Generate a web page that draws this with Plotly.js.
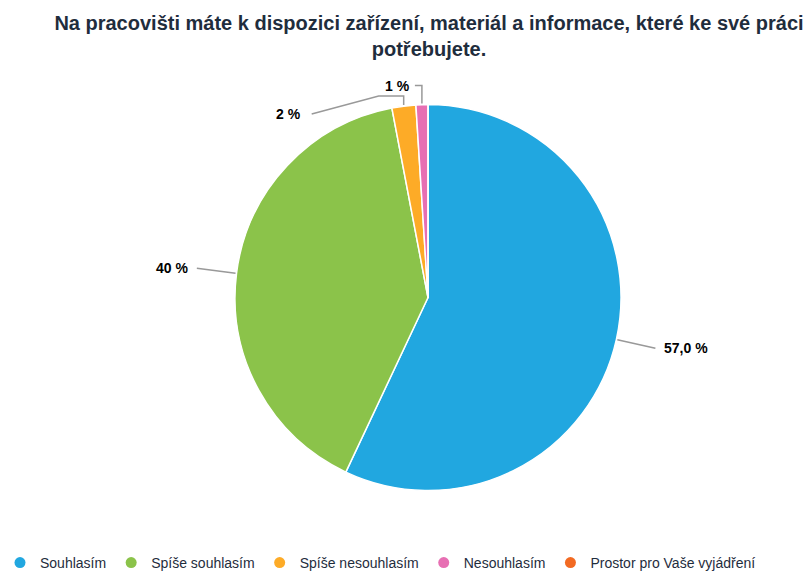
<!DOCTYPE html>
<html>
<head>
<meta charset="utf-8">
<script src="https://cdn.plot.ly/plotly-3.0.1.min.js"></script>
<style>html,body{margin:0;padding:0;background:#fff;}#chart{width:811px;height:572px;}</style>
</head>
<body>
<div id="chart"></div>
<script>
const categories = ["Souhlasím", "Spíše souhlasím", "Spíše nesouhlasím", "Nesouhlasím", "Prostor pro Vaše vyjádření"];
const values = [57.0, 40, 2, 1, 0];
const valueLabels = ["57,0 %", "40 %", "2 %", "1 %", ""];
const colors = ["#21a7e0", "#8bc34a", "#fdab27", "#e76fb3", "#f26a22"];
const titleText = "Na pracovišti máte k dispozici zařízení, materiál a informace, které ke své práci<br>potřebujete.";

const W = 811, H = 572;
const cx = 428, cy = 297.5, R = 193;
const font = "'Liberation Sans', Arial, sans-serif";

// leader styles per slice (layout only)
const leaderStyle = [
  {mode: "radial", ext: 40, gap: 7},
  {mode: "radial", ext: 40, gap: 7},
  {mode: "elbow", h: 9, w: 25, ldx: -92, ldy: 9, gap: 9},
  {mode: "elbow", h: 18, w: 7, ldx: -7, ldy: -18, gap: 3}
];

const total = values.reduce((a, b) => a + b, 0);
const shapes = [], annotations = [];
const px = x => x / W, py = y => 1 - y / H;
let cum = 0;
values.forEach((v, i) => {
  const mid = (cum + v / 2) / total * 2 * Math.PI;
  cum += v;
  if (v <= 0 || !leaderStyle[i]) return;
  const dx = Math.sin(mid), dy = -Math.cos(mid);
  const s = leaderStyle[i];
  const P = [cx + (R + 1) * dx, cy + (R + 1) * dy];
  let pts, L, anchor;
  if (s.mode === "radial") {
    const E = [cx + (R + s.ext) * dx, cy + (R + s.ext) * dy];
    pts = [P, E];
    anchor = dx >= 0 ? "left" : "right";
    L = [E[0] + (dx >= 0 ? s.gap : -s.gap), E[1]];
  } else {
    const A = [P[0], P[1] - s.h];
    const B = [P[0] - s.w, P[1] - s.h];
    const D = [P[0] + s.ldx, P[1] + s.ldy];
    pts = [P, A, B, D];
    anchor = "right";
    L = [D[0] - s.gap, D[1]];
  }
  const path = pts.map((p, k) => (k ? "L" : "M") + px(p[0]).toFixed(5) + "," + py(p[1]).toFixed(5)).join(" ");
  shapes.push({type: "path", xref: "paper", yref: "paper", path: path, line: {color: "#999999", width: 1.5}});
  annotations.push({
    xref: "paper", yref: "paper", x: px(L[0]), y: py(L[1]), xanchor: anchor, yanchor: "middle",
    text: "<b>" + valueLabels[i] + "</b>", showarrow: false,
    font: {family: font, size: 14, color: "#000000"}
  });
});

const pie = {
  type: "pie", labels: categories, values: values, sort: false, direction: "clockwise", rotation: 0,
  marker: {colors: colors, line: {color: "#ffffff", width: 1.5}},
  textinfo: "none", hoverinfo: "label+percent", showlegend: false,
  domain: {x: [(cx - R) / W, (cx + R) / W], y: [(H - cy - R) / H, (H - cy + R) / H]}
};
const legendTraces = categories.map((c, i) => ({
  type: "scatter", mode: "markers", x: [null], y: [null], name: c,
  marker: {color: colors[i], size: 11, symbol: "circle"}, showlegend: true, hoverinfo: "skip"
}));

const layout = {
  width: W, height: H,
  margin: {l: 0, r: 0, t: 0, b: 0, autoexpand: false},
  paper_bgcolor: "#ffffff", plot_bgcolor: "#ffffff",
  title: {
    text: "<b>" + titleText + "</b>", x: 429 / W, xanchor: "center", y: 1 - 30 / H, yanchor: "top",
    font: {family: font, size: 20, color: "#1f2d3d"}
  },
  xaxis: {visible: false}, yaxis: {visible: false},
  showlegend: true,
  legend: {
    orientation: "h", x: 0, xanchor: "left", y: -7 / H, yanchor: "bottom",
    font: {family: font, size: 14, color: "#1f2d3d"}, itemwidth: 30, bgcolor: "rgba(0,0,0,0)"
  },
  shapes: shapes, annotations: annotations
};
Plotly.newPlot("chart", [pie].concat(legendTraces), layout, {displayModeBar: false, staticPlot: true});
</script>
</body>
</html>
